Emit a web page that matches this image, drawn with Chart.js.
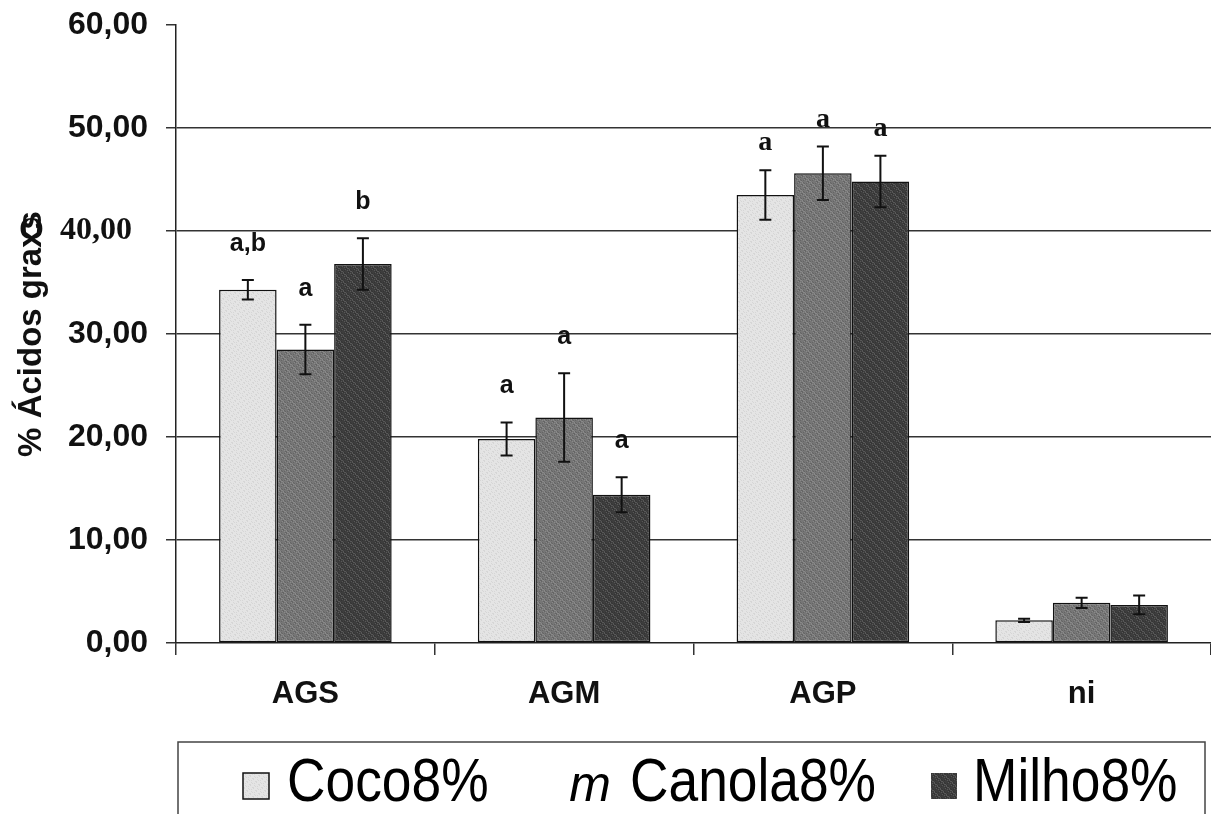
<!DOCTYPE html>
<html>
<head>
<meta charset="utf-8">
<title>% Ácidos graxos</title>
<script src="https://cdn.jsdelivr.net/npm/chart.js@4.4.0/dist/chart.umd.min.js"></script>
<style>
    html, body { margin: 0; padding: 0; background: #fff; }
    #wrap { width: 1211px; height: 814px; }
</style>
</head>
<body>
<div id="wrap"><canvas id="fattyChart" width="1211" height="814"></canvas></div>
<script>
// ===== DATA =====
const categories = ['AGS', 'AGM', 'AGP', 'ni'];
const seriesNames = ['Coco8%', 'Canola8%', 'Milho8%'];

const coco = [34.3, 19.8, 43.5, 2.2];
const canola = [28.5, 21.9, 45.6, 3.9];
const milho = [36.8, 14.4, 44.8, 3.7];

const cocoErr = [0.95, 1.6, 2.4, 0.15];
const canolaErr = [2.4, 4.3, 2.6, 0.5];
const milhoErr = [2.5, 1.7, 2.5, 0.9];

const cocoLetters = ['a,b', 'a', 'a', ''];
const canolaLetters = ['a', 'a', 'a', ''];
const milhoLetters = ['b', 'a', 'a', ''];

const yTickLabels = ['0,00', '10,00', '20,00', '30,00', 'O  40,00  ', '50,00', '60,00'];

// ===== STYLE =====
const SANS = '"Liberation Sans", Arial, sans-serif';
const SERIF = '"Liberation Serif", "Times New Roman", serif';
const fills = ['#e4e4e4', '#767676', '#3d3d3d'];
const legendMarks = ['box', 'm', 'box'];

// grainy fill, a bit like the scanned halftone
function grain(base, amp) {
    const c = document.createElement('canvas');
    c.width = 9;
    c.height = 9;
    const g = c.getContext('2d');
    g.fillStyle = base;
    g.fillRect(0, 0, 9, 9);
    for (let x = 0; x < 9; x++) {
        for (let y = 0; y < 9; y++) {
            const k = (x * 5 + y * 7 + x * y * 3) % 9;
            if (k < 2) {
                g.fillStyle = 'rgba(0,0,0,' + amp + ')';
                g.fillRect(x, y, 1, 1);
            } else if (k > 6) {
                g.fillStyle = 'rgba(255,255,255,' + amp + ')';
                g.fillRect(x, y, 1, 1);
            }
        }
    }
    return document.getElementById('fattyChart').getContext('2d').createPattern(c, 'repeat');
}

// error bars + significance letters
const errorBarPlugin = {
    id: 'errorBars',
    afterDatasetsDraw(chart) {
        const ctx = chart.ctx;
        const y = chart.scales.y;
        chart.data.datasets.forEach((ds, i) => {
            const meta = chart.getDatasetMeta(i);
            meta.data.forEach((bar, j) => {
                const v = ds.data[j];
                const e = ds.errors[j];
                const top = y.getPixelForValue(v + e);
                const bot = y.getPixelForValue(v - e);
                ctx.save();
                ctx.strokeStyle = '#111';
                ctx.lineWidth = 2;
                ctx.beginPath();
                ctx.moveTo(bar.x, top);
                ctx.lineTo(bar.x, bot);
                ctx.moveTo(bar.x - 6, top);
                ctx.lineTo(bar.x + 6, top);
                ctx.moveTo(bar.x - 6, bot);
                ctx.lineTo(bar.x + 6, bot);
                ctx.stroke();

                const letter = ds.letters[j];
                if (letter) {
                    // the AGP letters came out in a serif face in the scan
                    const serif = chart.data.labels[j] === 'AGP';
                    ctx.fillStyle = '#111';
                    ctx.textAlign = 'center';
                    ctx.textBaseline = 'middle';
                    ctx.font = serif ? 'bold 28px ' + SERIF : 'bold 25px ' + SANS;
                    ctx.fillText(letter, bar.x, top - (serif ? 27 : 36));
                }
                ctx.restore();
            });
        });
    }
};

// boxed legend under the axis
const boxLegendPlugin = {
    id: 'boxLegend',
    afterDraw(chart) {
        const ctx = chart.ctx;
        ctx.save();
        ctx.strokeStyle = '#444';
        ctx.lineWidth = 1.5;
        ctx.strokeRect(178, 742, 1027, 90);

        const items = [
            { mark: 270, text: 287 },
            { mark: 590, text: 630 },
            { mark: 958, text: 973 },
        ];
        const base = 801;
        chart.data.datasets.forEach((ds, i) => {
            const it = items[i];
            if (legendMarks[i] === 'box') {
                ctx.fillStyle = ds.backgroundColor;
                ctx.fillRect(it.mark - 27, base - 28, 26, 26);
                if (i === 0) {
                    ctx.strokeStyle = '#111';
                    ctx.lineWidth = 1.5;
                    ctx.strokeRect(it.mark - 27, base - 28, 26, 26);
                }
            } else {
                ctx.fillStyle = '#000';
                ctx.font = 'italic 50px ' + SANS;
                ctx.textAlign = 'center';
                ctx.textBaseline = 'alphabetic';
                ctx.fillText('m', it.mark, base);
            }
            ctx.save();
            ctx.translate(it.text, base);
            ctx.scale(0.86, 1);
            ctx.fillStyle = '#000';
            ctx.font = '62px ' + SANS;
            ctx.textAlign = 'left';
            ctx.textBaseline = 'alphabetic';
            ctx.fillText(ds.label, 0, 0);
            ctx.restore();
        });
        ctx.restore();
    }
};

function makeSet(label, data, errors, letters, idx) {
    return {
        label,
        data,
        errors,
        letters,
        backgroundColor: grain(fills[idx], idx === 0 ? 0.06 : 0.14),
        borderColor: '#111',
        borderWidth: 1.5,
        borderSkipped: false,
        categoryPercentage: 0.667,
        barPercentage: 1.0,
    };
}

new Chart(document.getElementById('fattyChart').getContext('2d'), {
    type: 'bar',
    data: {
        labels: categories,
        datasets: [
            makeSet(seriesNames[0], coco, cocoErr, cocoLetters, 0),
            makeSet(seriesNames[1], canola, canolaErr, canolaLetters, 1),
            makeSet(seriesNames[2], milho, milhoErr, milhoLetters, 2),
        ]
    },
    options: {
        responsive: false,
        animation: false,
        layout: { padding: { top: 25, right: 0, left: 0, bottom: 0 } },
        plugins: {
            legend: { display: false },
            tooltip: { enabled: false },
        },
        scales: {
            x: {
                grid: { offset: true, drawOnChartArea: false, drawTicks: true, tickLength: 12, color: '#333', lineWidth: 1.5 },
                border: { color: '#222', width: 1.5 },
                ticks: { color: '#111', font: { family: SANS, size: 31, weight: 'bold' }, padding: 21 },
                afterFit: s => { s.height = 171; },
            },
            y: {
                min: 0,
                max: 60,
                ticks: {
                    stepSize: 10,
                    color: '#111',
                    padding: 18,
                    callback: v => yTickLabels[Math.round(v / 10)],
                    font: ctx => (ctx.tick && ctx.tick.value === 40)
                        ? { family: SERIF, size: 32, weight: 'bold' }
                        : { family: SANS, size: 32, weight: 'bold' },
                },
                grid: {
                    color: ctx => (ctx.tick && (ctx.tick.value === 60 || ctx.tick.value === 0)) ? 'rgba(0,0,0,0)' : '#333',
                    tickColor: '#333',
                    tickLength: 10,
                    lineWidth: 1.5,
                },
                border: { color: '#222', width: 1.5 },
                title: {
                    display: true,
                    text: '% Ácidos graxs',
                    color: '#111',
                    font: { family: SANS, size: 33, weight: 'bold' },
                    padding: { top: 12, bottom: 0 },
                },
                afterFit: s => {
                    s.width = 176;
                    s.paddingTop = 0;
                    s.paddingBottom = 0;
                },
            }
        }
    },
    plugins: [errorBarPlugin, boxLegendPlugin]
});
</script>
</body>
</html>
